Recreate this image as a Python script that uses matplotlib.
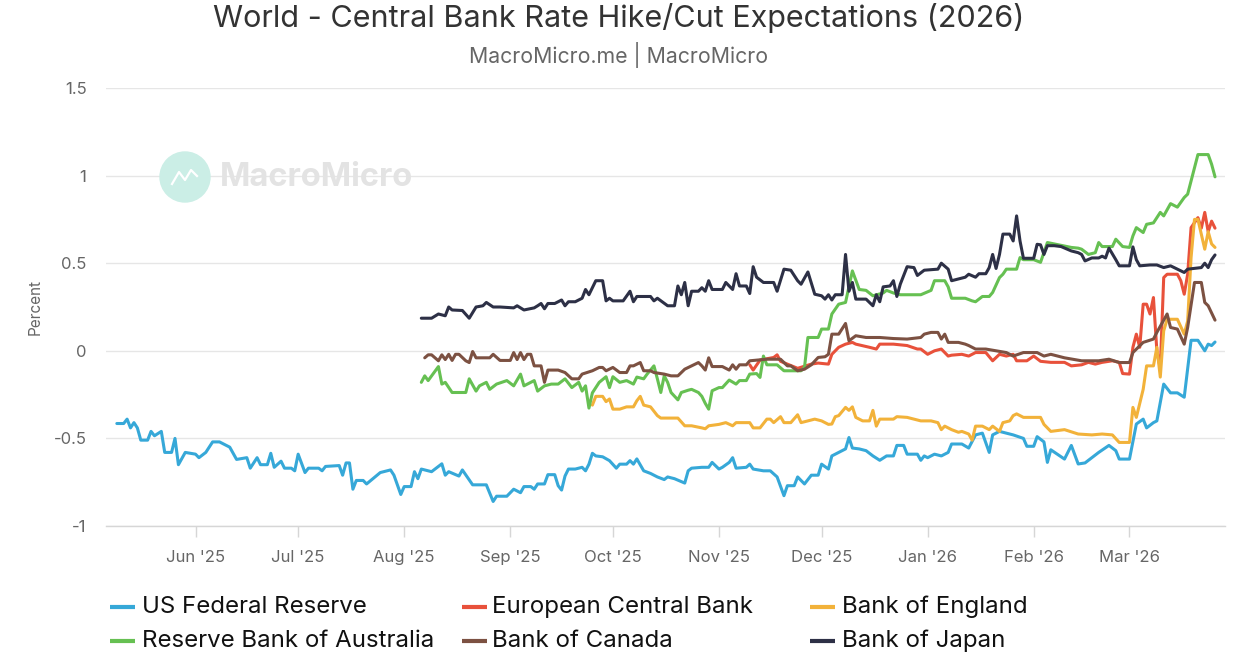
import matplotlib
matplotlib.use("Agg")
import matplotlib.pyplot as plt
from matplotlib.lines import Line2D
from matplotlib.patches import Ellipse
import pandas as pd

plt.rcParams['font.family'] = ['Inter', 'DejaVu Sans']

# ---- data -------------------------------------------------------------
fed_dates = [
    "2025-05-09", "2025-05-11", "2025-05-12", "2025-05-13", "2025-05-14", "2025-05-15",
    "2025-05-16", "2025-05-18", "2025-05-19", "2025-05-20", "2025-05-22", "2025-05-23",
    "2025-05-25", "2025-05-26", "2025-05-27", "2025-05-29", "2025-06-01", "2025-06-02",
    "2025-06-04", "2025-06-06", "2025-06-08", "2025-06-10", "2025-06-11", "2025-06-13",
    "2025-06-16", "2025-06-17", "2025-06-19", "2025-06-20", "2025-06-22", "2025-06-23",
    "2025-06-24", "2025-06-26", "2025-06-27", "2025-06-29", "2025-06-30", "2025-07-01",
    "2025-07-03", "2025-07-04", "2025-07-07", "2025-07-08", "2025-07-09", "2025-07-13",
    "2025-07-14", "2025-07-15", "2025-07-16", "2025-07-17", "2025-07-18", "2025-07-20",
    "2025-07-21", "2025-07-25", "2025-07-28", "2025-07-29", "2025-07-31", "2025-08-01",
    "2025-08-03", "2025-08-04", "2025-08-05", "2025-08-06", "2025-08-09", "2025-08-12",
    "2025-08-13", "2025-08-14", "2025-08-17", "2025-08-18", "2025-08-21", "2025-08-25",
    "2025-08-27", "2025-08-28", "2025-08-31", "2025-09-02", "2025-09-04", "2025-09-05",
    "2025-09-07", "2025-09-08", "2025-09-09", "2025-09-11", "2025-09-12", "2025-09-14",
    "2025-09-15", "2025-09-16", "2025-09-17", "2025-09-18", "2025-09-20", "2025-09-22",
    "2025-09-23", "2025-09-24", "2025-09-25", "2025-09-26", "2025-09-28", "2025-09-30",
    "2025-10-02", "2025-10-03", "2025-10-05", "2025-10-06", "2025-10-07", "2025-10-08",
    "2025-10-10", "2025-10-12", "2025-10-14", "2025-10-16", "2025-10-17", "2025-10-19",
    "2025-10-22", "2025-10-23", "2025-10-24", "2025-10-27", "2025-10-29", "2025-10-30",
    "2025-11-01", "2025-11-02", "2025-11-04", "2025-11-05", "2025-11-06", "2025-11-09",
    "2025-11-10", "2025-11-11", "2025-11-14", "2025-11-16", "2025-11-18", "2025-11-20",
    "2025-11-21", "2025-11-23", "2025-11-24", "2025-11-26", "2025-11-28", "2025-11-30",
    "2025-12-01", "2025-12-03", "2025-12-04", "2025-12-06", "2025-12-08", "2025-12-09",
    "2025-12-10", "2025-12-12", "2025-12-14", "2025-12-16", "2025-12-18", "2025-12-20",
    "2025-12-22", "2025-12-23", "2025-12-25", "2025-12-26", "2025-12-29", "2025-12-30",
    "2025-12-31", "2026-01-01", "2026-01-03", "2026-01-05", "2026-01-07", "2026-01-08",
    "2026-01-11", "2026-01-13", "2026-01-15", "2026-01-16", "2026-01-17", "2026-01-19",
    "2026-01-20", "2026-01-22", "2026-01-26", "2026-01-29", "2026-01-30", "2026-02-01",
    "2026-02-02", "2026-02-04", "2026-02-05", "2026-02-06", "2026-02-10", "2026-02-12",
    "2026-02-14", "2026-02-16", "2026-02-20", "2026-02-23", "2026-02-25", "2026-02-26",
    "2026-03-01", "2026-03-03", "2026-03-05", "2026-03-06", "2026-03-08", "2026-03-09",
    "2026-03-11", "2026-03-13", "2026-03-15", "2026-03-17", "2026-03-19", "2026-03-21",
    "2026-03-23", "2026-03-24", "2026-03-25", "2026-03-26",
]
fed_values = [
    -0.415, -0.415, -0.39, -0.44, -0.41, -0.44,
    -0.51, -0.51, -0.46, -0.485, -0.46, -0.58,
    -0.58, -0.50, -0.65, -0.58, -0.59, -0.61,
    -0.58, -0.52, -0.52, -0.54, -0.55, -0.62,
    -0.61, -0.67, -0.61, -0.65, -0.65, -0.585,
    -0.665, -0.63, -0.67, -0.67, -0.685, -0.59,
    -0.695, -0.67, -0.67, -0.685, -0.66, -0.655,
    -0.71, -0.64, -0.64, -0.79, -0.74, -0.74,
    -0.76, -0.695, -0.68, -0.71, -0.82, -0.775,
    -0.775, -0.69, -0.73, -0.675, -0.69, -0.645,
    -0.71, -0.69, -0.715, -0.68, -0.765, -0.765,
    -0.86, -0.83, -0.83, -0.79, -0.81, -0.775,
    -0.775, -0.79, -0.76, -0.76, -0.707, -0.707,
    -0.77, -0.795, -0.715, -0.675, -0.675, -0.665,
    -0.685, -0.647, -0.585, -0.60, -0.605, -0.627,
    -0.67, -0.647, -0.647, -0.627, -0.647, -0.617,
    -0.685, -0.70, -0.72, -0.735, -0.72, -0.73,
    -0.755, -0.685, -0.67, -0.665, -0.665, -0.637,
    -0.675, -0.665, -0.637, -0.61, -0.67, -0.665,
    -0.647, -0.675, -0.685, -0.685, -0.72, -0.827,
    -0.77, -0.77, -0.72, -0.76, -0.71, -0.71,
    -0.647, -0.675, -0.60, -0.58, -0.56, -0.495,
    -0.555, -0.56, -0.57, -0.60, -0.625, -0.60,
    -0.60, -0.54, -0.54, -0.59, -0.59, -0.625,
    -0.60, -0.61, -0.59, -0.60, -0.58, -0.532,
    -0.532, -0.555, -0.48, -0.475, -0.47, -0.58,
    -0.48, -0.46, -0.48, -0.50, -0.545, -0.545,
    -0.49, -0.52, -0.637, -0.565, -0.618, -0.54,
    -0.646, -0.64, -0.58, -0.54, -0.57, -0.618,
    -0.618, -0.418, -0.39, -0.44, -0.41, -0.40,
    -0.19, -0.24, -0.24, -0.265, 0.06, 0.06,
    0.0, 0.038, 0.03, 0.05,
]

ecb_dates = [
    "2025-11-10", "2025-11-11", "2025-11-13", "2025-11-17", "2025-11-18", "2025-11-19",
    "2025-11-24", "2025-11-28", "2025-11-30", "2025-12-03", "2025-12-04", "2025-12-06",
    "2025-12-08", "2025-12-10", "2025-12-11", "2025-12-15", "2025-12-17", "2025-12-18",
    "2025-12-22", "2025-12-26", "2025-12-29", "2025-12-30", "2026-01-01", "2026-01-03",
    "2026-01-05", "2026-01-07", "2026-01-08", "2026-01-11", "2026-01-13", "2026-01-15",
    "2026-01-18", "2026-01-20", "2026-01-22", "2026-01-24", "2026-01-26", "2026-01-27",
    "2026-01-30", "2026-02-01", "2026-02-03", "2026-02-06", "2026-02-10", "2026-02-12",
    "2026-02-15", "2026-02-17", "2026-02-19", "2026-02-21", "2026-02-24", "2026-02-26",
    "2026-02-27", "2026-03-01", "2026-03-02", "2026-03-03", "2026-03-04", "2026-03-05",
    "2026-03-06", "2026-03-07", "2026-03-08", "2026-03-09", "2026-03-10", "2026-03-11",
    "2026-03-12", "2026-03-15", "2026-03-16", "2026-03-17", "2026-03-18", "2026-03-19",
    "2026-03-21", "2026-03-22", "2026-03-23", "2026-03-24", "2026-03-25", "2026-03-26",
]
ecb_values = [
    -0.08, -0.11, -0.053, -0.038, -0.023, -0.06,
    -0.10, -0.076, -0.07, -0.076, -0.02, 0.02,
    0.038, 0.048, 0.038, 0.02, 0.01, 0.038,
    0.038, 0.03, 0.01, 0.01, -0.02, 0.0,
    0.01, -0.03, -0.025, -0.02, -0.03, -0.01,
    -0.01, -0.057, -0.02, -0.03, -0.02, -0.057,
    -0.057, -0.03, -0.06, -0.066, -0.066, -0.086,
    -0.08, -0.066, -0.076, -0.066, -0.057, -0.066,
    -0.13, -0.133, 0.02, 0.095, 0.02, 0.266,
    0.266, 0.21, 0.304, 0.0, -0.10, 0.418,
    0.437, 0.437, 0.40, 0.323, 0.437, 0.703,
    0.76, 0.70, 0.79, 0.68, 0.74, 0.70,
]

boe_dates = [
    "2025-09-25", "2025-09-26", "2025-09-28", "2025-09-29", "2025-09-30", "2025-10-01",
    "2025-10-03", "2025-10-05", "2025-10-07", "2025-10-08", "2025-10-09", "2025-10-10",
    "2025-10-12", "2025-10-14", "2025-10-15", "2025-10-20", "2025-10-22", "2025-10-24",
    "2025-10-27", "2025-10-28", "2025-10-29", "2025-11-01", "2025-11-03", "2025-11-05",
    "2025-11-06", "2025-11-08", "2025-11-10", "2025-11-11", "2025-11-13", "2025-11-15",
    "2025-11-16", "2025-11-17", "2025-11-19", "2025-11-20", "2025-11-22", "2025-11-24",
    "2025-11-25", "2025-11-27", "2025-11-29", "2025-12-01", "2025-12-03", "2025-12-04",
    "2025-12-05", "2025-12-06", "2025-12-08", "2025-12-09", "2025-12-10", "2025-12-11",
    "2025-12-13", "2025-12-15", "2025-12-16", "2025-12-17", "2025-12-18", "2025-12-19",
    "2025-12-22", "2025-12-23", "2025-12-26", "2025-12-28", "2025-12-30", "2026-01-02",
    "2026-01-04", "2026-01-05", "2026-01-06", "2026-01-08", "2026-01-10", "2026-01-11",
    "2026-01-13", "2026-01-14", "2026-01-15", "2026-01-17", "2026-01-19", "2026-01-20",
    "2026-01-22", "2026-01-23", "2026-01-25", "2026-01-26", "2026-01-27", "2026-01-29",
    "2026-02-02", "2026-02-03", "2026-02-04", "2026-02-06", "2026-02-10", "2026-02-14",
    "2026-02-18", "2026-02-21", "2026-02-24", "2026-02-26", "2026-03-01", "2026-03-02",
    "2026-03-03", "2026-03-05", "2026-03-06", "2026-03-08", "2026-03-09", "2026-03-10",
    "2026-03-11", "2026-03-12", "2026-03-15", "2026-03-17", "2026-03-18", "2026-03-19",
    "2026-03-20", "2026-03-21", "2026-03-23", "2026-03-24", "2026-03-25", "2026-03-26",
]
boe_values = [
    -0.31, -0.26, -0.26, -0.29, -0.275, -0.333,
    -0.333, -0.32, -0.32, -0.285, -0.26, -0.31,
    -0.32, -0.37, -0.384, -0.384, -0.428, -0.428,
    -0.44, -0.445, -0.428, -0.42, -0.41, -0.428,
    -0.41, -0.41, -0.41, -0.44, -0.44, -0.39,
    -0.39, -0.41, -0.376, -0.41, -0.41, -0.365,
    -0.41, -0.40, -0.39, -0.40, -0.42, -0.418,
    -0.376, -0.37, -0.323, -0.34, -0.32, -0.38,
    -0.40, -0.40, -0.34, -0.43, -0.39, -0.39,
    -0.39, -0.376, -0.38, -0.39, -0.40, -0.40,
    -0.41, -0.45, -0.43, -0.45, -0.465, -0.46,
    -0.475, -0.51, -0.43, -0.43, -0.45, -0.43,
    -0.46, -0.41, -0.40, -0.37, -0.36, -0.38,
    -0.38, -0.38, -0.42, -0.46, -0.45, -0.475,
    -0.48, -0.475, -0.48, -0.523, -0.523, -0.323,
    -0.38, -0.22, -0.086, -0.086, 0.02, -0.15,
    0.114, 0.18, 0.18, 0.095, 0.17, 0.532,
    0.75, 0.75, 0.58, 0.68, 0.61, 0.59,
]

rba_dates = [
    "2025-08-06", "2025-08-07", "2025-08-08", "2025-08-09", "2025-08-11", "2025-08-12",
    "2025-08-13", "2025-08-15", "2025-08-19", "2025-08-20", "2025-08-22", "2025-08-23",
    "2025-08-25", "2025-08-26", "2025-08-28", "2025-08-31", "2025-09-02", "2025-09-04",
    "2025-09-05", "2025-09-06", "2025-09-08", "2025-09-09", "2025-09-11", "2025-09-13",
    "2025-09-15", "2025-09-17", "2025-09-19", "2025-09-21", "2025-09-22", "2025-09-23",
    "2025-09-24", "2025-09-25", "2025-09-27", "2025-09-29", "2025-09-30", "2025-10-01",
    "2025-10-03", "2025-10-05", "2025-10-07", "2025-10-08", "2025-10-10", "2025-10-11",
    "2025-10-13", "2025-10-14", "2025-10-15", "2025-10-16", "2025-10-17", "2025-10-18",
    "2025-10-20", "2025-10-21", "2025-10-23", "2025-10-24", "2025-10-26", "2025-10-27",
    "2025-10-28", "2025-10-29", "2025-10-30", "2025-11-01", "2025-11-02", "2025-11-04",
    "2025-11-06", "2025-11-07", "2025-11-09", "2025-11-10", "2025-11-12", "2025-11-13",
    "2025-11-14", "2025-11-15", "2025-11-18", "2025-11-20", "2025-11-25", "2025-11-26",
    "2025-11-27", "2025-11-30", "2025-12-01", "2025-12-03", "2025-12-04", "2025-12-06",
    "2025-12-08", "2025-12-10", "2025-12-12", "2025-12-14", "2025-12-16", "2025-12-19",
    "2025-12-20", "2025-12-22", "2025-12-24", "2025-12-27", "2025-12-30", "2026-01-02",
    "2026-01-03", "2026-01-06", "2026-01-07", "2026-01-08", "2026-01-12", "2026-01-14",
    "2026-01-15", "2026-01-17", "2026-01-19", "2026-01-20", "2026-01-22", "2026-01-23",
    "2026-01-24", "2026-01-27", "2026-01-28", "2026-01-29", "2026-02-01", "2026-02-03",
    "2026-02-05", "2026-02-07", "2026-02-12", "2026-02-14", "2026-02-15", "2026-02-17",
    "2026-02-19", "2026-02-20", "2026-02-21", "2026-02-24", "2026-02-25", "2026-02-27",
    "2026-03-01", "2026-03-02", "2026-03-03", "2026-03-05", "2026-03-06", "2026-03-08",
    "2026-03-10", "2026-03-11", "2026-03-13", "2026-03-15", "2026-03-17", "2026-03-18",
    "2026-03-19", "2026-03-21", "2026-03-24", "2026-03-25", "2026-03-26",
]
rba_values = [
    -0.18, -0.143, -0.17, -0.143, -0.09, -0.19,
    -0.18, -0.238, -0.238, -0.16, -0.23, -0.20,
    -0.18, -0.22, -0.19, -0.17, -0.20, -0.133,
    -0.20, -0.19, -0.17, -0.23, -0.20, -0.19,
    -0.19, -0.16, -0.21, -0.18, -0.23, -0.20,
    -0.327, -0.24, -0.18, -0.148, -0.21, -0.148,
    -0.18, -0.17, -0.19, -0.15, -0.16, -0.133,
    -0.086, -0.16, -0.238, -0.143, -0.18, -0.238,
    -0.28, -0.238, -0.225, -0.22, -0.238, -0.26,
    -0.30, -0.333, -0.228, -0.21, -0.21, -0.167,
    -0.19, -0.17, -0.17, -0.133, -0.13, -0.152,
    -0.03, -0.08, -0.08, -0.114, -0.114, -0.095,
    0.076, 0.076, 0.124, 0.124, 0.21, 0.266,
    0.276, 0.456, 0.35, 0.345, 0.314, 0.33,
    0.345, 0.33, 0.32, 0.32, 0.32, 0.345,
    0.40, 0.40, 0.365, 0.30, 0.30, 0.285,
    0.28, 0.31, 0.31, 0.333, 0.418, 0.437,
    0.466, 0.466, 0.532, 0.52, 0.52, 0.505,
    0.618, 0.61, 0.59, 0.586, 0.58, 0.55,
    0.56, 0.618, 0.595, 0.595, 0.637, 0.595,
    0.59, 0.656, 0.703, 0.675, 0.722, 0.73,
    0.79, 0.77, 0.84, 0.82, 0.875, 0.894,
    0.97, 1.12, 1.12, 1.065, 0.993,
]

boc_dates = [
    "2025-08-07", "2025-08-08", "2025-08-09", "2025-08-11", "2025-08-12", "2025-08-13",
    "2025-08-14", "2025-08-15", "2025-08-16", "2025-08-17", "2025-08-19", "2025-08-20",
    "2025-08-21", "2025-08-22", "2025-08-26", "2025-08-27", "2025-08-29", "2025-09-01",
    "2025-09-02", "2025-09-03", "2025-09-04", "2025-09-05", "2025-09-06", "2025-09-07",
    "2025-09-08", "2025-09-10", "2025-09-11", "2025-09-12", "2025-09-15", "2025-09-17",
    "2025-09-19", "2025-09-21", "2025-09-22", "2025-09-25", "2025-09-27", "2025-09-28",
    "2025-09-29", "2025-10-01", "2025-10-03", "2025-10-05", "2025-10-06", "2025-10-07",
    "2025-10-09", "2025-10-10", "2025-10-12", "2025-10-13", "2025-10-16", "2025-10-18",
    "2025-10-20", "2025-10-22", "2025-10-24", "2025-10-26", "2025-10-27", "2025-10-28",
    "2025-10-29", "2025-10-30", "2025-11-02", "2025-11-04", "2025-11-05", "2025-11-06",
    "2025-11-07", "2025-11-09", "2025-11-10", "2025-11-15", "2025-11-19", "2025-11-21",
    "2025-11-22", "2025-11-24", "2025-11-26", "2025-11-28", "2025-11-30", "2025-12-02",
    "2025-12-03", "2025-12-04", "2025-12-06", "2025-12-08", "2025-12-09", "2025-12-11",
    "2025-12-14", "2025-12-18", "2025-12-22", "2025-12-26", "2025-12-30", "2025-12-31",
    "2026-01-02", "2026-01-04", "2026-01-05", "2026-01-06", "2026-01-07", "2026-01-10",
    "2026-01-12", "2026-01-13", "2026-01-15", "2026-01-18", "2026-01-21", "2026-01-24",
    "2026-01-26", "2026-01-29", "2026-02-02", "2026-02-04", "2026-02-06", "2026-02-10",
    "2026-02-15", "2026-02-20", "2026-02-23", "2026-02-26", "2026-03-01", "2026-03-02",
    "2026-03-05", "2026-03-08", "2026-03-09", "2026-03-12", "2026-03-13", "2026-03-15",
    "2026-03-17", "2026-03-18", "2026-03-20", "2026-03-22", "2026-03-23", "2026-03-24",
    "2026-03-26",
]
boc_values = [
    -0.04, -0.023, -0.023, -0.057, -0.023, -0.05,
    -0.02, -0.055, -0.02, -0.02, -0.057, -0.067,
    -0.004, -0.04, -0.04, -0.02, -0.055, -0.055,
    -0.01, -0.05, -0.01, -0.05, -0.02, -0.02,
    -0.086, -0.086, -0.18, -0.11, -0.11, -0.124,
    -0.16, -0.16, -0.133, -0.114, -0.095, -0.095,
    -0.114, -0.095, -0.124, -0.124, -0.086, -0.086,
    -0.067, -0.114, -0.114, -0.124, -0.133, -0.143,
    -0.143, -0.105, -0.086, -0.067, -0.086, -0.11,
    -0.04, -0.09, -0.09, -0.11, -0.08, -0.105,
    -0.08, -0.08, -0.057, -0.048, -0.048, -0.086,
    -0.086, -0.114, -0.105, -0.08, -0.038, -0.034,
    -0.02, 0.095, 0.095, 0.156, 0.057, 0.086,
    0.076, 0.076, 0.07, 0.067, 0.076, 0.095,
    0.105, 0.105, 0.067, 0.095, 0.048, 0.048,
    0.038, 0.03, 0.01, 0.01, 0.0, -0.01,
    -0.03, -0.01, -0.01, -0.03, -0.02, -0.04,
    -0.057, -0.057, -0.048, -0.067, -0.067, -0.01,
    0.048, 0.067, 0.105, 0.21, 0.133, 0.124,
    0.038, 0.133, 0.39, 0.39, 0.276, 0.257,
    0.175,
]

boj_dates = [
    "2025-08-06", "2025-08-09", "2025-08-11", "2025-08-13", "2025-08-14", "2025-08-15",
    "2025-08-18", "2025-08-20", "2025-08-22", "2025-08-24", "2025-08-25", "2025-08-27",
    "2025-08-29", "2025-09-02", "2025-09-03", "2025-09-05", "2025-09-08", "2025-09-09",
    "2025-09-10", "2025-09-11", "2025-09-12", "2025-09-14", "2025-09-16", "2025-09-17",
    "2025-09-18", "2025-09-20", "2025-09-22", "2025-09-23", "2025-09-24", "2025-09-26",
    "2025-09-28", "2025-09-29", "2025-09-30", "2025-10-01", "2025-10-04", "2025-10-06",
    "2025-10-07", "2025-10-08", "2025-10-12", "2025-10-13", "2025-10-14", "2025-10-17",
    "2025-10-19", "2025-10-20", "2025-10-21", "2025-10-22", "2025-10-23", "2025-10-24",
    "2025-10-26", "2025-10-27", "2025-10-28", "2025-10-29", "2025-10-30", "2025-11-02",
    "2025-11-03", "2025-11-05", "2025-11-06", "2025-11-07", "2025-11-09", "2025-11-10",
    "2025-11-11", "2025-11-12", "2025-11-14", "2025-11-17", "2025-11-18", "2025-11-20",
    "2025-11-22", "2025-11-24", "2025-11-25", "2025-11-27", "2025-11-29", "2025-12-01",
    "2025-12-02", "2025-12-03", "2025-12-04", "2025-12-05", "2025-12-07", "2025-12-08",
    "2025-12-09", "2025-12-10", "2025-12-11", "2025-12-14", "2025-12-16", "2025-12-17",
    "2025-12-18", "2025-12-19", "2025-12-21", "2025-12-22", "2025-12-23", "2025-12-24",
    "2025-12-26", "2025-12-28", "2025-12-29", "2025-12-31", "2026-01-04", "2026-01-05",
    "2026-01-07", "2026-01-08", "2026-01-10", "2026-01-12", "2026-01-13", "2026-01-15",
    "2026-01-16", "2026-01-18", "2026-01-19", "2026-01-20", "2026-01-21", "2026-01-22",
    "2026-01-23", "2026-01-25", "2026-01-26", "2026-01-27", "2026-01-28", "2026-01-29",
    "2026-02-01", "2026-02-02", "2026-02-03", "2026-02-04", "2026-02-05", "2026-02-07",
    "2026-02-09", "2026-02-12", "2026-02-14", "2026-02-15", "2026-02-16", "2026-02-18",
    "2026-02-20", "2026-02-21", "2026-02-22", "2026-02-23", "2026-02-25", "2026-02-26",
    "2026-03-01", "2026-03-02", "2026-03-03", "2026-03-04", "2026-03-07", "2026-03-09",
    "2026-03-11", "2026-03-13", "2026-03-15", "2026-03-17", "2026-03-18", "2026-03-22",
    "2026-03-23", "2026-03-24", "2026-03-25", "2026-03-26",
]
boj_values = [
    0.186, 0.186, 0.21, 0.20, 0.25, 0.233,
    0.23, 0.186, 0.25, 0.257, 0.276, 0.25,
    0.25, 0.245, 0.257, 0.233, 0.245, 0.257,
    0.27, 0.24, 0.27, 0.27, 0.29, 0.257,
    0.28, 0.28, 0.30, 0.35, 0.32, 0.40,
    0.40, 0.285, 0.30, 0.285, 0.285, 0.34,
    0.28, 0.31, 0.31, 0.285, 0.30, 0.257,
    0.257, 0.37, 0.32, 0.39, 0.257, 0.34,
    0.34, 0.36, 0.34, 0.40, 0.35, 0.35,
    0.39, 0.35, 0.44, 0.37, 0.37, 0.327,
    0.48, 0.42, 0.39, 0.39, 0.34, 0.466,
    0.46, 0.40, 0.38, 0.45, 0.323, 0.314,
    0.295, 0.32, 0.29, 0.32, 0.32, 0.55,
    0.34, 0.39, 0.295, 0.295, 0.257, 0.32,
    0.28, 0.365, 0.37, 0.40, 0.31, 0.38,
    0.48, 0.475, 0.43, 0.46, 0.466, 0.50,
    0.466, 0.40, 0.41, 0.42, 0.437, 0.42,
    0.44, 0.44, 0.475, 0.55, 0.47, 0.55,
    0.666, 0.666, 0.627, 0.77, 0.627, 0.528,
    0.528, 0.608, 0.605, 0.55, 0.60, 0.60,
    0.595, 0.57, 0.56, 0.55, 0.513, 0.53,
    0.53, 0.54, 0.53, 0.586, 0.52, 0.485,
    0.485, 0.593, 0.52, 0.485, 0.49, 0.49,
    0.475, 0.485, 0.466, 0.447, 0.466, 0.475,
    0.50, 0.475, 0.52, 0.547,
]

series_names = ["US Federal Reserve", "European Central Bank", "Bank of England",
                "Reserve Bank of Australia", "Bank of Canada", "Bank of Japan"]
series_dates = [fed_dates, ecb_dates, boe_dates, rba_dates, boc_dates, boj_dates]
series_values = [fed_values, ecb_values, boe_values, rba_values, boc_values, boj_values]
series_colors = ["#36a8d8", "#e8513b", "#f2b23a", "#66c052", "#7c5142", "#2d3046"]

y_ticks = [-1, -0.5, 0, 0.5, 1, 1.5]
y_tick_labels = ["-1", "-0.5", "0", "0.5", "1", "1.5"]
month_ticks = pd.date_range("2025-06-01", "2026-03-01", freq="MS")
month_labels = [d.strftime("%b '%y") for d in month_ticks]

# ---- figure -----------------------------------------------------------
W, H = 1237, 669
fig = plt.figure(figsize=(W / 100, H / 100), dpi=100)
fig.patch.set_facecolor("white")


def fx(px):
    return px / W


def fy(py):
    return 1 - py / H


ax = fig.add_axes([fx(106), fy(526), fx(1225) - fx(106), fy(88) - fy(526)])
ax.set_facecolor("none")

for dates, vals, color in zip(series_dates, series_values, series_colors):
    ax.plot(pd.to_datetime(dates), vals, color=color, lw=2.2,
            solid_joinstyle="round", solid_capstyle="round", zorder=3)

ax.set_ylim(-1, 1.5)
ax.set_yticks(y_ticks)
ax.set_yticklabels(y_tick_labels)
ax.set_xlim(pd.Timestamp("2025-05-05 20:00"), pd.Timestamp("2026-03-28 22:00"))
ax.set_xticks(month_ticks)
ax.set_xticklabels(month_labels)

ax.grid(axis="y", color="#e6e6e6", lw=1.0, zorder=0)
ax.grid(axis="x", visible=False)
for side in ("top", "right", "left"):
    ax.spines[side].set_visible(False)
ax.spines["bottom"].set_color("#d6d6d6")
ax.spines["bottom"].set_linewidth(1.0)

ax.tick_params(axis="x", length=8, width=1, color="#d6d6d6",
               labelsize=12, labelcolor="#666666", pad=9)
ax.tick_params(axis="y", length=0, labelsize=12, labelcolor="#666666", pad=14)

ax.set_ylabel("Percent", fontsize=11, color="#666666", labelpad=8)

# titles
fig.text(0.5, fy(18), "World - Central Bank Rate Hike/Cut Expectations (2026)",
         ha="center", va="center", fontsize=22, color="#333333")
fig.text(0.5, fy(55), "MacroMicro.me | MacroMicro",
         ha="center", va="center", fontsize=15.3, color="#666666")

# watermark
fig.patches.append(Ellipse((fx(185), fy(177)), 50 / W, 50 / H,
                           transform=fig.transFigure, color="#cbeee6", zorder=1))
fig.lines.append(Line2D([fx(172), fx(179), fx(185), fx(191), fx(197)],
                        [fy(184), fy(172), fy(180), fy(170), fy(176)],
                        transform=fig.transFigure, color="white", lw=1.6, zorder=2))
fig.text(fx(220), fy(178), "MacroMicro", ha="left", va="center",
         fontsize=23.5, fontweight="bold", color="#e3e3e3", zorder=1)

# legend
legend_cols = [(110, 142), (462, 492), (810, 842)]
legend_rows = [607, 641]
for i, (name, color) in enumerate(zip(series_names, series_colors)):
    r, c = divmod(i, 3)
    lx, tx = legend_cols[c]
    y = legend_rows[r]
    fig.lines.append(Line2D([fx(lx), fx(lx + 25)], [fy(y), fy(y)],
                            transform=fig.transFigure, color=color, lw=3.0,
                            solid_capstyle="butt"))
    fig.text(fx(tx), fy(y), name, ha="left", va="center",
             fontsize=17.3, color="#111111")

fig.savefig("out.png", dpi=100, facecolor="white")
